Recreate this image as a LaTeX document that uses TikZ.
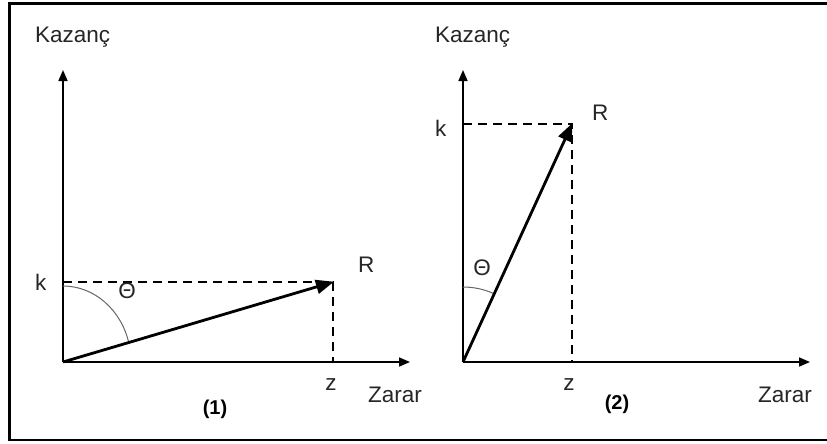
\documentclass[tikz,border=0pt]{standalone}
\usepackage{fontspec}
\setmainfont{Liberation Sans}
\usetikzlibrary{arrows.meta}
\begin{document}
\begin{tikzpicture}[x=1pt,y=-1pt,
  lbl/.style={inner sep=0pt,text=black!85,font=\fontsize{22.5}{26}\selectfont},
  num/.style={inner sep=0pt,font=\fontsize{20}{23}\selectfont\bfseries},
  axis/.style={line width=1.6pt,-{Triangle[length=11pt,width=9pt]}},
  vec/.style={line width=2.8pt,-{Triangle[length=18pt,width=14pt]}, shorten >=-1pt},
  guide/.style={line width=1.8pt,dash pattern=on 9pt off 6pt},
  anglearc/.style={line width=1pt,draw=black!60}]
\useasboundingbox (0,0) rectangle (827,444);
\fill[white] (0,0) rectangle (827,444);
% frame
\draw[line width=2.4pt] (827,440) -- (9.5,440) -- (9.5,3.5) -- (827,3.5);

% ---------- panel 1 ----------
\coordinate (O1) at (63,362);
\coordinate (Y1) at (63,70);
\coordinate (X1) at (410,362);
\coordinate (K1) at (63,282);
\coordinate (R1) at (333,282);
\coordinate (Z1) at (333,362);
\draw[guide] (K1) -- (R1) -- (Z1);
\draw[axis] (O1) -- (Y1);
\draw[axis] (O1) -- (X1);
\draw[anglearc] (63,286) arc[start angle=-90,end angle=-14.8,x radius=68,y radius=76];
\draw[vec] (O1) -- (R1);
\node[lbl,anchor=base west] (kaz1) at (35,43) {Kazanç};
\node[lbl,anchor=base west] (k1) at (35,290) {k};
\node[lbl,anchor=base west] (r1) at (358,272) {R};
\node[lbl,anchor=base] (z1) at (331,390) {z};
\node[lbl,anchor=base west] (zar1) at (368,402) {Zarar};
\node[lbl] (th1) at (127,291) {Θ};
\node[num,anchor=base] (n1) at (215,414) {(1)};

% ---------- panel 2 ----------
\coordinate (O2) at (463,362);
\coordinate (Y2) at (463,70);
\coordinate (X2) at (810,362);
\coordinate (K2) at (463,124);
\coordinate (R2) at (572,124);
\coordinate (Z2) at (572,362);
\draw[guide] (K2) -- (R2) -- (Z2);
\draw[axis] (O2) -- (Y2);
\draw[axis] (O2) -- (X2);
\draw[anglearc] (463,287) arc[start angle=-90,end angle=-65.4,radius=75];
\draw[vec] (O2) -- (R2);
\node[lbl,anchor=base west] (kaz2) at (435,43) {Kazanç};
\node[lbl,anchor=base west] (k2) at (435,136) {k};
\node[lbl,anchor=base west] (r2) at (592,120) {R};
\node[lbl,anchor=base] (z2) at (569,390) {z};
\node[lbl,anchor=base west] (zar2) at (758,402) {Zarar};
\node[lbl] (th2) at (482,268) {Θ};
\node[num,anchor=base] (n2) at (617,409) {(2)};
\end{tikzpicture}
\end{document}
